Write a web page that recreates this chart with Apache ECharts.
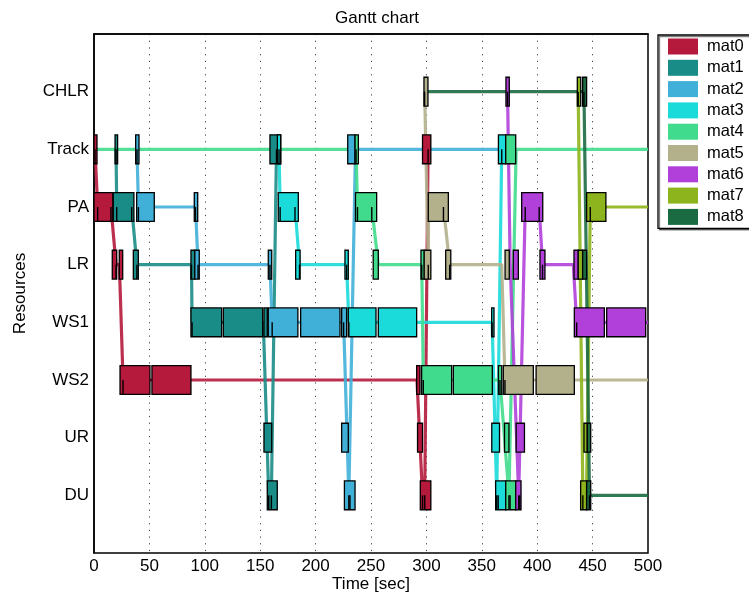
<!DOCTYPE html>
<html><head><meta charset="utf-8">
<script src="https://cdn.jsdelivr.net/npm/echarts@6/dist/echarts.min.js"></script>
<style>html,body{margin:0;padding:0;background:#fff}#c{width:749px;height:596px}</style>
</head><body><div id="c"></div>
<script>
// ---- data ----
const resources = ['CHLR','Track','PA','LR','WS1','WS2','UR','DU']; // rows 1..8 from top
const materials = ['mat0','mat1','mat2','mat3','mat4','mat5','mat6','mat7','mat8'];
const matColors = ['#B5193C','#1A8C87','#40B0D8','#1ADBD9','#40DB8C','#B3B08C','#B040D9','#8DB41C','#1B6B42'];
const xTicks = [0,50,100,150,200,250,300,350,400,450,500];

// processing boxes: [resource, start, end]
const mat0Boxes = [['Track',0,2.7],['PA',0,17],['LR',16.5,20.5],['LR',22.8,25.9],['WS2',23.5,50.5],['WS2',52.3,87.5],['WS2',291.2,294.2],['UR',292,296.5],['DU',294.5,304],['Track',296.5,304]];
const mat1Boxes = [['Track',19,21.3],['PA',17.4,36],['LR',35.5,40],['LR',87.5,91],['WS1',87.5,115.2],['WS1',116.7,152.2],['WS1',153.4,156.4],['UR',153.4,160.4],['DU',156.4,165.4],['Track',158.8,168.5]];
const mat2Boxes = [['Track',37.6,40.6],['PA',38.5,54.4],['PA',90.5,93.6],['LR',91,95],['LR',157.3,160.4],['WS1',157.3,184],['WS1',186.5,222],['WS1',223.5,228],['UR',223.5,229.5],['DU',226,235.6],['Track',229,235.6]];
const mat3Boxes = [['Track',165.5,168.5],['PA',166.3,184.4],['LR',182,186],['LR',226.5,229.5],['WS1',229.5,254.5],['WS1',256.6,291.2],['WS1',358.9,361],['UR',359,366],['DU',362.5,371.6],['Track',365,371.6]];
const mat4Boxes = [['Track',235.6,238.6],['PA',236,255.1],['LR',252,256.6],['LR',295.1,298.1],['WS2',295.7,322.8],['WS2',324.3,359.5],['WS2',365,368],['UR',370.5,374.5],['DU',371.6,380.6],['Track',371.6,380.6]];
const mat5Boxes = [['LR',298,304],['CHLR',297.8,301.4],['PA',301.7,319.8],['LR',317.4,322],['LR',371,374.8],['WS2',369.4,396.5],['WS2',399,433.5]];
const mat6Boxes = [['CHLR',371.8,374.8],['LR',378.4,383],['UR',381,388.5],['DU',380.6,385.4],['PA',386,405],['LR',402.5,407],['LR',433.2,437.1],['WS1',433.5,460.6],['WS1',462.7,497.9]];
const mat7Boxes = [['CHLR',436.2,439.3],['LR',437,441],['UR',442.2,445.2],['DU',439.2,444.6],['PA',444.6,462]];
const mat8Boxes = [['CHLR',441,444.6],['LR',441,444.6],['UR',445.2,448.3],['DU',444.6,448.3]];

// material trajectories: [time, resource]
const mat0Path = [[0.9,'Track'],[3.3,'PA'],[15.3,'PA'],[19.9,'LR'],[22.9,'LR'],[26.2,'WS2'],[291.5,'WS2'],[296.5,'DU'],[298.5,'DU'],[301.5,'Track']];
const mat1Path = [[19.9,'Track'],[20.5,'PA'],[34,'PA'],[38.7,'LR'],[88,'LR'],[88.5,'WS1'],[152.8,'WS1'],[157.7,'DU'],[160.1,'DU'],[164.7,'Track']];
const mat2Path = [[38.8,'Track'],[40.1,'PA'],[91.6,'PA'],[93.9,'LR'],[158.8,'LR'],[160.8,'WS1'],[225.3,'WS1'],[230,'DU'],[231,'DU'],[236,'Track'],[369,'Track']];
const mat3Path = [[167,'Track'],[168,'PA'],[181.4,'PA'],[185.5,'LR'],[228,'LR'],[230,'WS1'],[359.3,'WS1'],[363.5,'DU'],[364.8,'DU'],[368,'Track']];
const mat4Path = [[0,'Track'],[236.5,'Track'],[237.8,'PA'],[250.7,'PA'],[256.6,'LR'],[295.8,'LR'],[297.2,'WS2'],[366.4,'WS2'],[374.5,'DU'],[375.5,'DU'],[381,'Track'],[500,'Track']];
const mat5Path = [[298.4,'CHLR'],[301.7,'LR'],[302,'PA'],[315.4,'PA'],[321,'LR'],[368,'LR'],[370.9,'WS2'],[500,'WS2']];
const mat6Path = [[373.2,'CHLR'],[375.6,'LR'],[377,'LR'],[383.3,'DU'],[384.3,'DU'],[389.2,'PA'],[401.8,'PA'],[404.8,'LR'],[432.6,'LR'],[435.6,'WS1'],[500,'WS1']];
const mat7Path = [[437,'CHLR'],[441.2,'DU'],[444.5,'DU'],[447.9,'PA'],[500,'PA']];
const mat8Path = [[299,'CHLR'],[442.2,'CHLR'],[447.2,'DU'],[500,'DU']];

const allBoxes = [mat0Boxes,mat1Boxes,mat2Boxes,mat3Boxes,mat4Boxes,mat5Boxes,mat6Boxes,mat7Boxes,mat8Boxes];
const allPaths = [mat0Path,mat1Path,mat2Path,mat3Path,mat4Path,mat5Path,mat6Path,mat7Path,mat8Path];

// ---- build ----
const rowOf = r => resources.indexOf(r) + 1;
const BOX_H = 0.5;

function renderBox(params, api) {
  const s = api.value(0), e = api.value(1), r = api.value(2);
  const p0 = api.coord([s, r]), p1 = api.coord([e, r]);
  const h = api.size([0, BOX_H])[1];
  return {type:'rect', shape:{x:p0[0], y:p0[1]-h/2, width:Math.max(p1[0]-p0[0],1.5), height:h},
    style:{fill:api.visual('color'), stroke:'#000', lineWidth:1.3}};
}
function renderMark(params, api) {
  const p = api.coord([api.value(0), api.value(1)]);
  const h = api.size([0, BOX_H])[1];
  return {type:'line', shape:{x1:p[0], y1:p[1], x2:p[0], y2:p[1]+h/2}, style:{stroke:'#000', lineWidth:1.4}};
}

const series = [];
const marks = [];
materials.forEach((m, i) => {
  const bx = allBoxes[i].map(b => [b[1], b[2], rowOf(b[0])]);
  const pts = allPaths[i].map(p => [p[0], rowOf(p[1])]);
  series.push({name:m, type:'line', data:pts, showSymbol:false, symbol:'none', color:matColors[i],
    lineStyle:{width:3.2, color:matColors[i], opacity:0.9}, z:2, silent:true});
  series.push({name:m, type:'custom', renderItem:renderBox, data:bx, color:matColors[i],
    itemStyle:{color:matColors[i]}, encode:{x:[0,1], y:2}, z:4, silent:true});
  pts.forEach((p, k) => {
    const prev = pts[k-1], next = pts[k+1];
    const trans = (prev && prev[1] !== p[1]) || (next && next[1] !== p[1]);
    if (!trans) return;
    if (bx.some(b => b[2] === p[1] && p[0] > b[0] + 0.4 && p[0] < b[1] - 0.4)) marks.push(p);
  });
});
series.push({name:'marks', type:'custom', renderItem:renderMark, data:marks, encode:{x:0, y:1}, z:6, silent:true});

const FS = 17;
const chart = echarts.init(document.getElementById('c'));
chart.setOption({
  animation:false,
  backgroundColor:'#fff',
  textStyle:{fontFamily:'Liberation Sans, Arial, sans-serif'},
  title:{text:'Gantt chart', left:330, top:5, textStyle:{fontSize:FS, fontWeight:'normal', color:'#000'}},
  legend:{data:materials, orient:'vertical', left:658, top:35, icon:'rect', itemWidth:30, itemHeight:16, itemGap:4.3,
    padding:[3,8,3,10], borderColor:'#000', borderWidth:1.3, backgroundColor:'#fff',
    shadowColor:'rgba(0,0,0,0.5)', shadowOffsetX:1.5, shadowOffsetY:1.5,
    textStyle:{fontSize:16.5, lineHeight:16, color:'#000', padding:[0,0,0,4]}, itemStyle:{borderWidth:0}},
  grid:{left:94, right:101, top:34, bottom:43, show:true, borderColor:'#000', borderWidth:1.5,
    containLabel:false, outerBoundsMode:'none'},
  xAxis:{type:'value', min:xTicks[0], max:xTicks[xTicks.length-1], interval:50,
    name:'Time [sec]', nameLocation:'middle', nameGap:23, nameMoveOverlap:false, nameTextStyle:{fontSize:FS, color:'#000'},
    axisLine:{show:true, lineStyle:{color:'#000', width:1.5}}, axisTick:{show:false},
    axisLabel:{fontSize:FS, color:'#000', margin:5},
    splitLine:{show:true, lineStyle:{color:'#444', width:1, type:[1.2,5.5]}}},
  yAxis:{type:'value', min:0, max:9, interval:1, inverse:true,
    name:'Resources', nameLocation:'middle', nameGap:65, nameMoveOverlap:false, nameRotate:90, nameTextStyle:{fontSize:FS, color:'#000'},
    axisLine:{show:true, lineStyle:{color:'#000', width:1.5}}, axisTick:{show:false},
    axisLabel:{fontSize:FS, color:'#000', margin:5, formatter:v => resources[v-1] || ''},
    splitLine:{show:false}},
  series:series
});
</script></body></html>
